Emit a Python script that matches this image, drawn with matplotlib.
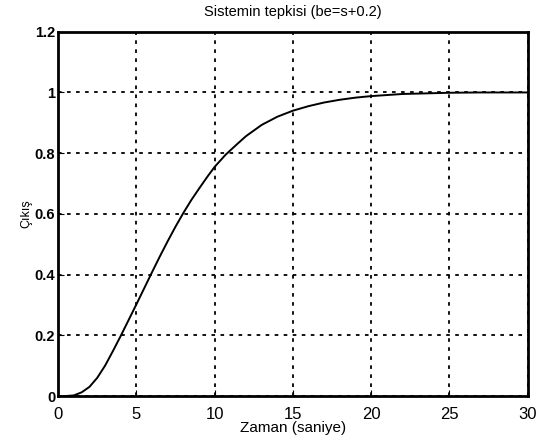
#Basamak cevabi - Sistemin tepkisi
import numpy as np
import matplotlib.pyplot as plt

#Veriler
zaman = [0, 0.5, 1, 1.5, 2, 2.5, 3, 3.5, 4, 4.5, 5, 5.5, 6, 6.5, 7, 7.5, 8, 8.5, 9, 9.5, 10, 10.7, 11.5, 12, 13, 14, 15, 16, 17, 18, 19, 20, 22, 25, 27, 30]
cikis = [0, 0, 0.002, 0.012, 0.03, 0.06, 0.10, 0.148, 0.198, 0.25, 0.302, 0.355, 0.408, 0.46, 0.51, 0.558, 0.603, 0.645, 0.683, 0.72, 0.755, 0.795, 0.833, 0.856, 0.893, 0.92, 0.94, 0.955, 0.967, 0.976, 0.983, 0.988, 0.995, 0.999, 1.0, 1.0]
xticks = [0, 5, 10, 15, 20, 25, 30]
yticks = [0, 0.2, 0.4, 0.6, 0.8, 1, 1.2]
ytick_labels = ["0", "0.2", "0.4", "0.6", "0.8", "1", "1.2"]

plt.rcParams['font.family'] = ['Liberation Sans', 'DejaVu Sans']

fig = plt.figure(figsize=(5.38, 4.41), dpi=100)
ax = fig.add_axes([0.108, 0.102, 0.873, 0.826])

ax.plot(zaman, cikis, color='black', linewidth=1.4)

ax.set_xlim(0, 30)
ax.set_ylim(0, 1.2)
ax.set_xticks(xticks)
ax.set_yticks(yticks)
ax.set_yticklabels(ytick_labels, fontweight='bold')
ax.tick_params(axis='x', labelsize=12, direction='in', length=4, pad=8)
ax.tick_params(axis='y', labelsize=10.5, direction='in', length=4, pad=2)
ax.grid(True, color='black', linestyle=(0, (2, 3)), linewidth=1.3)
for s in ax.spines.values():
    s.set_linewidth(2)

ax.set_title("Sistemin tepkisi (be=s+0.2)", fontsize=10.5, pad=11)
ax.set_xlabel("Zaman (saniye)", fontsize=11, labelpad=-1)
ax.set_ylabel("Çıkış", fontsize=9, labelpad=2)

plt.savefig("out.png", dpi=100)
